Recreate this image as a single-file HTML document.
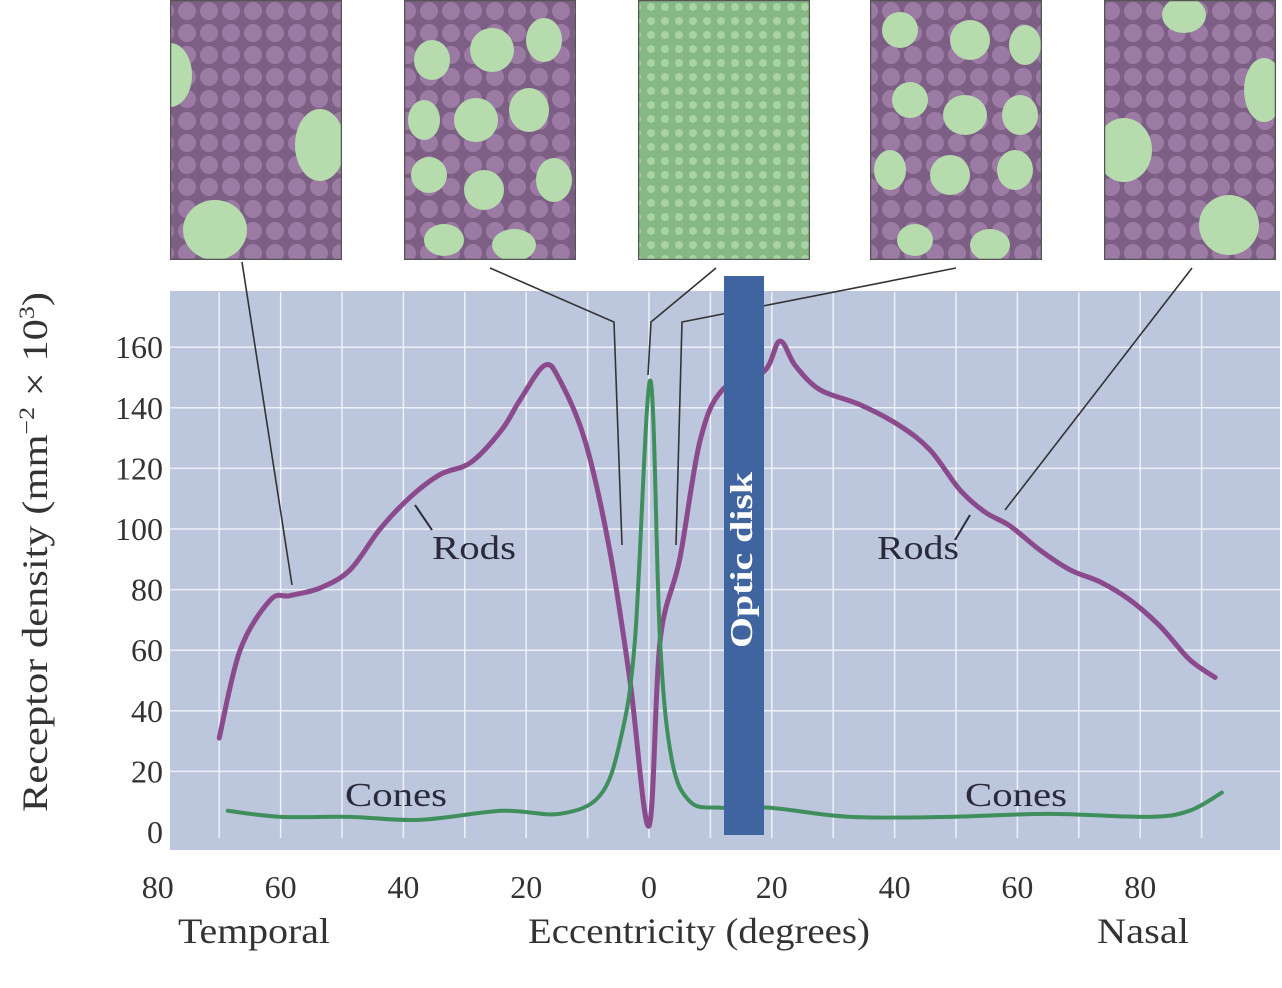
<!DOCTYPE html>
<html><head><meta charset="utf-8">
<style>
html,body{margin:0;padding:0;background:#fff;}
svg{display:block;font-family:"Liberation Serif",serif;}
</style></head>
<body>
<svg id="chart" width="1282" height="988" viewBox="0 0 1282 988">
<defs>
<pattern id="rodpat" width="22" height="22" patternUnits="userSpaceOnUse">
<rect width="22" height="22" fill="#7d5f86"/>
<circle cx="11" cy="11" r="9" fill="#9b7aa4"/>
</pattern>
<pattern id="conepat" width="14" height="14" patternUnits="userSpaceOnUse">
<rect width="14" height="14" fill="#86b884"/>
<circle cx="7" cy="7" r="4" fill="#a9d3a4"/>
</pattern>
</defs>
<g id="thumbs"></g>
<rect x="170" y="291" width="1110" height="559" fill="#bcc6dd"/>
<g id="grid"></g>
<g id="leaders" stroke="#333" stroke-width="1.6" fill="none">
<polyline points="242,262 292,585"/>
<polyline points="490,268 614,322 622,545"/>
<polyline points="716,268 651,322 648,375"/>
<polyline points="956,268 682,322 676,545"/>
<polyline points="1192,268 1005,510"/>
</g>
<g id="series"></g>
<rect x="724" y="276" width="40" height="559" fill="#3f64a0"/>
<text transform="translate(752,560) rotate(-90)" text-anchor="middle" fill="#fff" font-size="32" font-weight="bold" textLength="176" lengthAdjust="spacingAndGlyphs">Optic disk</text>
<g id="axes"></g>
<g fill="#2a2a3a" font-size="34">
<line x1="415" y1="505" x2="432" y2="530" stroke="#2a2a3a" stroke-width="2"/>
<text x="432" y="559" textLength="84" lengthAdjust="spacingAndGlyphs">Rods</text>
<line x1="955" y1="540" x2="970" y2="515" stroke="#2a2a3a" stroke-width="2"/>
<text x="877" y="559" textLength="82" lengthAdjust="spacingAndGlyphs">Rods</text>
<text x="345" y="806" textLength="102" lengthAdjust="spacingAndGlyphs">Cones</text>
<text x="965" y="806" textLength="102" lengthAdjust="spacingAndGlyphs">Cones</text>
</g>
<g fill="#333" font-size="36">
<text x="178" y="943" textLength="152" lengthAdjust="spacingAndGlyphs">Temporal</text>
<text x="528" y="943" textLength="342" lengthAdjust="spacingAndGlyphs">Eccentricity (degrees)</text>
<text x="1097" y="943" textLength="92" lengthAdjust="spacingAndGlyphs">Nasal</text>
<text transform="translate(47,812) rotate(-90)" textLength="520" lengthAdjust="spacingAndGlyphs">Receptor density (mm<tspan font-size="22" dy="-13">−2</tspan><tspan dy="13"> × 10</tspan><tspan font-size="22" dy="-13">3</tspan><tspan dy="13">)</tspan></text>
</g>
</svg>
<script>
const rodDeg = [-70,-66.6,-61.7,-58.5,-53.6,-48.7,-43.8,-38.9,-34,-29,-24,-21,-17,-14.5,-10.4,-6.4,-3.1,0,1.8,5,8.3,12,18.7,21.3,23.8,27.8,34.4,40.9,45.8,50.6,54.7,58.8,63.7,68.6,73.5,78.3,83.2,88,92.2];
const rodVal = [31,60,76.5,78,80.5,86.5,100,110.5,118,122,132.7,142.6,154,149,129,93,50,2,63,90,129,146,152,162,154,146,141,134,126,113,105.6,101,93,86.5,82.5,76.6,68,57,51];
const coneDeg = [-68.6,-60,-48.7,-37.3,-24,-14.5,-8,-4.7,-2.3,0.2,1.8,3.7,6.7,11.6,19.7,32.7,49,65,81.4,88,93.3];
const coneVal = [7,5,5,4,7,6,12,30,63,149,63,24,10,8,8,5,5,6,5,7,13];
const xTicks = [-80,-60,-40,-20,0,20,40,60,80];
const xTickLabels = ["80","60","40","20","0","20","40","60","80"];
const yTicks = [0,20,40,60,80,100,120,140,160];

const NS="http://www.w3.org/2000/svg";
const X = d => 649 + d*6.14;
const Y = v => 832 - v*3.03;
function mk(tag, attrs, parent){const e=document.createElementNS(NS,tag);for(const k in attrs)e.setAttribute(k,attrs[k]);parent.appendChild(e);return e;}
function smooth(pts){let d=`M${pts[0][0]},${pts[0][1]}`;for(let i=0;i<pts.length-1;i++){const p0=pts[i-1]||pts[i],p1=pts[i],p2=pts[i+1],p3=pts[i+2]||p2;const c1=[p1[0]+(p2[0]-p0[0])/6,p1[1]+(p2[1]-p0[1])/6],c2=[p2[0]-(p3[0]-p1[0])/6,p2[1]-(p3[1]-p1[1])/6];d+=` C${c1[0]},${c1[1]} ${c2[0]},${c2[1]} ${p2[0]},${p2[1]}`;}return d;}

const grid=document.getElementById('grid');
for(let d=-70; d<=90; d+=10){const l=mk('line',{x1:X(d),x2:X(d),y1:292,y2:838,stroke:'#eef1f8','stroke-width':1.5},grid);

}
yTicks.forEach(v=>{if(v===0)return;const l=mk('line',{x1:170,x2:1280,y1:Y(v),y2:Y(v),stroke:'#eef1f8','stroke-width':1.5},grid);

});

const thumbs=document.getElementById('thumbs');
const defs=document.querySelector('defs');
const tx=[170,404,638,870,1104];
const blobs=[[[0,75,22,32],[150,145,25,36],[45,230,32,30]],[[28,60,18,20],[88,50,22,22],[140,40,18,22],[20,120,16,20],[72,120,22,22],[125,110,20,22],[25,175,18,18],[80,190,20,20],[150,180,18,22],[40,240,20,16],[110,245,22,16]],null,[[30,30,18,18],[100,40,20,20],[155,45,16,20],[40,100,18,18],[95,115,22,20],[150,115,18,20],[20,170,16,20],[80,175,20,20],[145,170,18,20],[45,240,18,16],[120,245,20,16]],[[80,15,22,18],[160,90,20,32],[20,150,28,32],[125,225,30,30]]];
tx.forEach((x,i)=>{
const cp=mk('clipPath',{id:'clip'+i},defs);mk('rect',{x:x,y:0,width:172,height:260},cp);
const g=mk('g',{'clip-path':'url(#clip'+i+')'},thumbs);


mk('rect',{x:x,y:0,width:172,height:260,fill:i===2?'url(#conepat)':'url(#rodpat)'},g);
if(blobs[i])blobs[i].forEach(b=>mk('ellipse',{cx:x+b[0],cy:b[1],rx:b[2],ry:b[3],fill:'#b6dcae'},g));
mk('rect',{x:x+0.5,y:0.5,width:171,height:259,fill:'none',stroke:'#555','stroke-width':1.5},g);});

const series=document.getElementById('series');
const rp=mk('path',{d:smooth(rodDeg.map((d,i)=>[X(d),Y(rodVal[i])])),fill:'none',stroke:'#8a4a8c','stroke-width':5,'stroke-linejoin':'round','stroke-linecap':'round'},series);


const cpth=mk('path',{d:smooth(coneDeg.map((d,i)=>[X(d),Y(coneVal[i])])),fill:'none',stroke:'#3f8f5c','stroke-width':4,'stroke-linejoin':'round','stroke-linecap':'round'},series);



const axes=document.getElementById('axes');
xTicks.forEach((d,i)=>{const t=mk('text',{x:X(d),y:898,'text-anchor':'middle','font-size':32,fill:'#333'},axes);t.textContent=xTickLabels[i];

});
yTicks.forEach(v=>{const t=mk('text',{x:163,y:Y(v)+11,'text-anchor':'end','font-size':32,fill:'#333'},axes);t.textContent=v;

});
</script>
</body></html>
